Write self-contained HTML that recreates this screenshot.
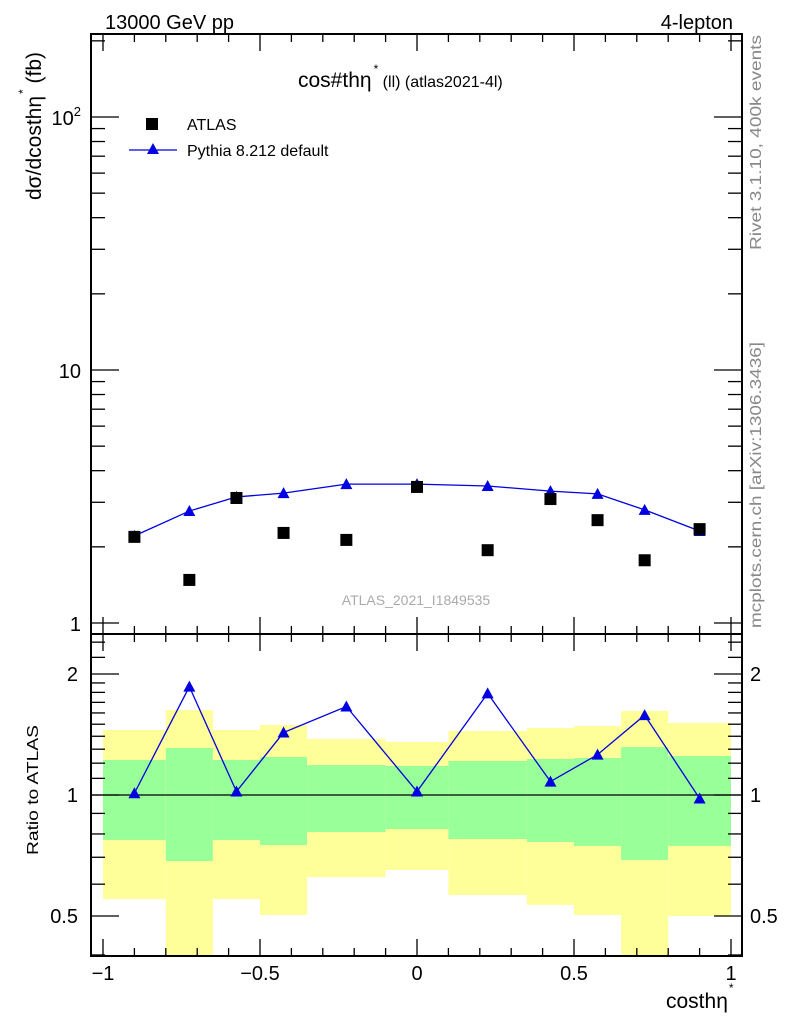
<!DOCTYPE html>
<html><head><meta charset="utf-8"><style>
body{margin:0;background:#fff;}
svg{display:block;font-family:"Liberation Sans",sans-serif;}
</style></head><body>
<svg id="c" width="786" height="1024">
<text x="105" y="29" font-size="20">13000 GeV pp</text>
<text x="733" y="29" font-size="20" text-anchor="end">4-lepton</text>
<text x="298" y="87" font-size="21">cos#thη<tspan dx="2" dy="-14" font-size="12">*</tspan><tspan dy="14" font-size="16"> (ll) (atlas2021-4l)</tspan></text>
<text transform="translate(41,200) rotate(-90)" font-size="21">dσ/dcosthη<tspan dx="2" dy="-14" font-size="12">*</tspan><tspan dy="14"> (fb)</tspan></text>
<text transform="translate(38,855) rotate(-90)" font-size="16" textLength="130" lengthAdjust="spacingAndGlyphs">Ratio to ATLAS</text>
<text transform="translate(761,250) rotate(-90)" font-size="16" fill="#888" textLength="215" lengthAdjust="spacingAndGlyphs">Rivet 3.1.10,  400k events</text>
<text transform="translate(761,628) rotate(-90)" font-size="16" fill="#888" textLength="286" lengthAdjust="spacingAndGlyphs">mcplots.cern.ch [arXiv:1306.3436]</text>
<text x="416" y="605" font-size="14" fill="#aaa" text-anchor="middle">ATLAS_2021_I1849535</text>
<text x="666" y="1008" font-size="21">costhη<tspan dx="1" dy="-16" font-size="12">*</tspan></text>
<rect x="146" y="118" width="12" height="12" fill="#000"/>
<text x="187" y="130" font-size="16">ATLAS</text>
<line x1="129" y1="150" x2="177" y2="150" stroke="#0000e0" stroke-width="1.3"/>
<polygon points="153,143 147,154 159,154" fill="#0000e0"/>
<text x="187" y="156" font-size="16">Pythia 8.212 default</text>
<g id="g"></g>
</svg>
<script>
const edges=[-1,-0.8,-0.65,-0.5,-0.35,-0.1,0.1,0.35,0.5,0.65,0.8,1];
const atlas=[2.19,1.48,3.12,2.27,2.13,3.45,1.94,3.09,2.55,1.77,2.35];
const pythia=[2.21,2.77,3.15,3.26,3.54,3.54,3.48,3.32,3.24,2.8,2.31];
const ratio=[1.01,1.86,1.02,1.43,1.66,1.02,1.79,1.08,1.26,1.58,0.98];
const yelHi=[1.451,1.627,1.451,1.493,1.378,1.355,1.443,1.468,1.484,1.618,1.51];
const grnHi=[1.222,1.309,1.222,1.243,1.187,1.181,1.215,1.229,1.236,1.316,1.25];
const grnLo=[0.773,0.685,0.773,0.751,0.809,0.823,0.777,0.764,0.747,0.689,0.747];
const yelLo=[0.551,0.3,0.551,0.503,0.625,0.651,0.564,0.533,0.503,0.3,0.5];
const xTicks=[-1,-0.5,0,0.5,1];
const xTickLabels=["−1","−0.5","0","0.5","1"];
const ratioTicks=[0.5,1,2];

const L=91,R=742,T=34,M=634,B=956;
const X=v=>417+314*v;
const Y=v=>623-253*Math.log10(v);
const RY=v=>795-402*Math.log10(v);
const g=document.getElementById('g');
const NS='http://www.w3.org/2000/svg';
function mk(t,a,name){const e=document.createElementNS(NS,t);for(const k in a)e.setAttribute(k,a[k]);


g.appendChild(e);return e;}
const clipB=v=>Math.min(B,Math.max(M,v));
for(let i=0;i<11;i++){
 const x0=X(edges[i]),x1=X(edges[i+1]);
 mk('rect',{x:x0,y:clipB(RY(yelHi[i])),width:x1-x0,height:clipB(RY(yelLo[i]))-clipB(RY(yelHi[i])),fill:'#ffff99'},'stat-syst-band');
 mk('rect',{x:x0,y:RY(grnHi[i]),width:x1-x0,height:RY(grnLo[i])-RY(grnHi[i]),fill:'#99ff99'},'stat-band');
}
mk('line',{x1:L,x2:R,y1:RY(1),y2:RY(1),stroke:'#000','stroke-width':1.2},'ratio-unity-line');
const cen=i=>(edges[i]+edges[i+1])/2;
mk('polyline',{points:pythia.map((v,i)=>X(cen(i))+','+Y(v)).join(' '),fill:'none',stroke:'#0000e0','stroke-width':1.3},'pythia-line');
mk('polyline',{points:ratio.map((v,i)=>X(cen(i))+','+RY(v)).join(' '),fill:'none',stroke:'#0000e0','stroke-width':1.3},'ratio-line');
const tri=(x,y)=>`${x},${y-6} ${x-6},${y+5} ${x+6},${y+5}`;
pythia.forEach((v,i)=>mk('polygon',{points:tri(X(cen(i)),Y(v)),fill:'#0000e0'},'pythia-point'));
ratio.forEach((v,i)=>mk('polygon',{points:tri(X(cen(i)),RY(v)),fill:'#0000e0'},'ratio-point'));
atlas.forEach((v,i)=>mk('rect',{x:X(cen(i))-6,y:Y(v)-6,width:12,height:12,fill:'#000'},'atlas-point'));
mk('rect',{x:L,y:T,width:R-L,height:M-T,fill:'none',stroke:'#000','stroke-width':2},'main-frame');
mk('rect',{x:L,y:M,width:R-L,height:B-M,fill:'none',stroke:'#000','stroke-width':2},'ratio-frame');
for(let k=-10;k<=10;k++){const v=k/10,x=X(v),maj=k%5===0,len=maj?17:8;
 for(const [y,d] of [[T,1],[M,-1],[M,1],[B,-1]])
  mk('line',{x1:x,x2:x,y1:y,y2:y+d*len,stroke:'#000','stroke-width':1.3},'x-tick');}
xTicks.forEach((v,i)=>{const t=mk('text',{x:X(v),y:980,'font-size':20,'text-anchor':'middle'},'x-tick-label');t.textContent=xTickLabels[i];});
for(let d=0;d<3;d++)for(let m=1;m<10;m++){const v=m*Math.pow(10,d),y=Y(v);if(y<T||y>M)continue;
 const len=m===1?28:14;
 mk('line',{x1:L,x2:L+len,y1:y,y2:y,stroke:'#000','stroke-width':1.3},'y-tick');
 mk('line',{x1:R,x2:R-len,y1:y,y2:y,stroke:'#000','stroke-width':1.3},'y-tick');}
[[1,'1'],[10,'10']].forEach(([v,s])=>{const t=mk('text',{x:81,y:Y(v)+8,'font-size':20,'text-anchor':'end'},'y-tick-label');t.textContent=s;});
{const t=mk('text',{x:81,y:Y(100)+8,'font-size':20,'text-anchor':'end'},'y-tick-label');t.innerHTML='10<tspan dy="-9" font-size="13">2</tspan>';}
const rmin=[0.4,0.5,0.6,0.7,0.8,0.9,1,1.1,1.2,1.3,1.4,1.5,1.6,1.7,1.8,1.9,2,2.2,2.4];
rmin.forEach(v=>{const y=RY(v);if(y<M||y>B)return;const len=ratioTicks.includes(v)?28:14;
 mk('line',{x1:L,x2:L+len,y1:y,y2:y,stroke:'#000','stroke-width':1.3},'ratio-tick');
 mk('line',{x1:R,x2:R-len,y1:y,y2:y,stroke:'#000','stroke-width':1.3},'ratio-tick');});
ratioTicks.forEach(v=>{let t=mk('text',{x:78,y:RY(v)+7,'font-size':20,'text-anchor':'end'},'ratio-tick-label');t.textContent=String(v);
 t=mk('text',{x:750,y:RY(v)+7,'font-size':20},'ratio-tick-label-right');t.textContent=String(v);});
</script>
</body></html>
